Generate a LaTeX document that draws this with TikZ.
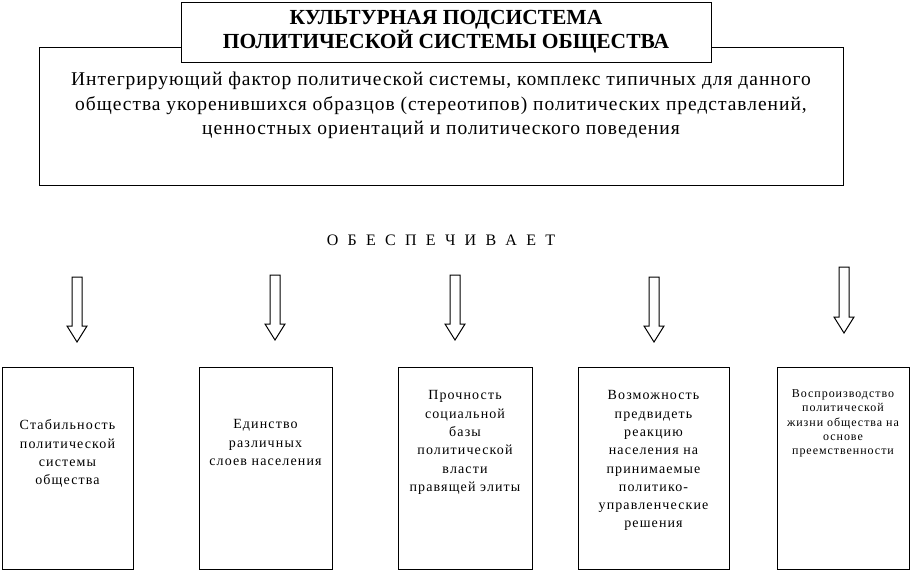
\documentclass[tikz,border=0pt]{standalone}
\usepackage{fontspec}
\setmainfont{Liberation Serif}
\newfontfamily\spacedfont[LetterSpace=8]{Liberation Serif}
\newfontfamily\widefont[LetterSpace=33]{Liberation Serif}
\newfontfamily\descfont[LetterSpace=5]{Liberation Serif}
\usetikzlibrary{positioning}

\begin{document}
\begin{tikzpicture}[x=1pt,y=-1pt,
   frame/.style={draw,line width=1pt,inner sep=0pt},
   cell/.style={frame,minimum height=202},
   celltext/.style={anchor=north,inner sep=0pt,align=center,
                    font=\spacedfont\fontsize{14}{18.3}\selectfont},
   arr/.style={draw,line width=1pt,fill=white}
 ]
  \useasboundingbox (0,0) rectangle (911,571);
  % upper block
  \node[frame,minimum width=804,minimum height=138] (frame) at (441,116) {};
  \node[frame,fill=white,minimum width=530,minimum height=60,align=center,
        font=\bfseries\fontsize{21.5}{21}\selectfont] (head) at (446,32)
        {КУЛЬТУРНАЯ ПОДСИСТЕМА\\ПОЛИТИЧЕСКОЙ СИСТЕМЫ ОБЩЕСТВА};
  \node[anchor=north,inner sep=0pt,align=center,
        font=\descfont\fontsize{19.5}{24.5}\selectfont] (desc) at (441,72)
        {Интегрирующий фактор политической системы, комплекс типичных для данного\\
         общества укоренившихся образцов (стереотипов) политических представлений,\\
         ценностных ориентаций и политического поведения};
  \node[font=\widefont\fontsize{16}{19}\selectfont] (verb) at (441,240)
        {О Б Е С П Е Ч И В А Е Т};
  % lower row
  \node[cell,minimum width=131] (stab) at (67.5,468) {};
  \node[cell,minimum width=133] (unity) at (265.5,468) {};
  \node[cell,minimum width=134] (base) at (465,468) {};
  \node[cell,minimum width=151] (react) at (653.5,468) {};
  \node[cell,minimum width=132] (repro) at (843,468) {};
  \node[celltext,below=53pt of stab.north] (stabtext)
        {Стабильность\\политической\\системы\\общества};
  \node[celltext,below=53pt of unity.north] (unitytext)
        {Единство\\различных\\слоев населения};
  \node[celltext,below=24pt of base.north] (basetext)
        {Прочность\\социальной\\базы\\политической\\власти\\правящей элиты};
  \node[celltext,below=24pt of react.north] (reacttext)
        {Возможность\\предвидеть\\реакцию\\населения на\\принимаемые\\политико-\\управленческие\\решения};
  \node[celltext,below=23pt of repro.north,font=\spacedfont\fontsize{12}{14.3}\selectfont] (reprotext)
        {Воспроизводство\\политической\\жизни общества на\\основе\\преемственности};
  % block arrows
  \foreach \x/\t/\e in {77/277/342,275/275/340,455/275/340,654/277/342,844/267/333}
    \draw[arr] (\x-5,\t) -- (\x+5,\t) -- (\x+5,\e-16) -- (\x+10,\e-16)
      -- (\x,\e) -- (\x-10,\e-16) -- (\x-5,\e-16) -- cycle;
\end{tikzpicture}
\end{document}
